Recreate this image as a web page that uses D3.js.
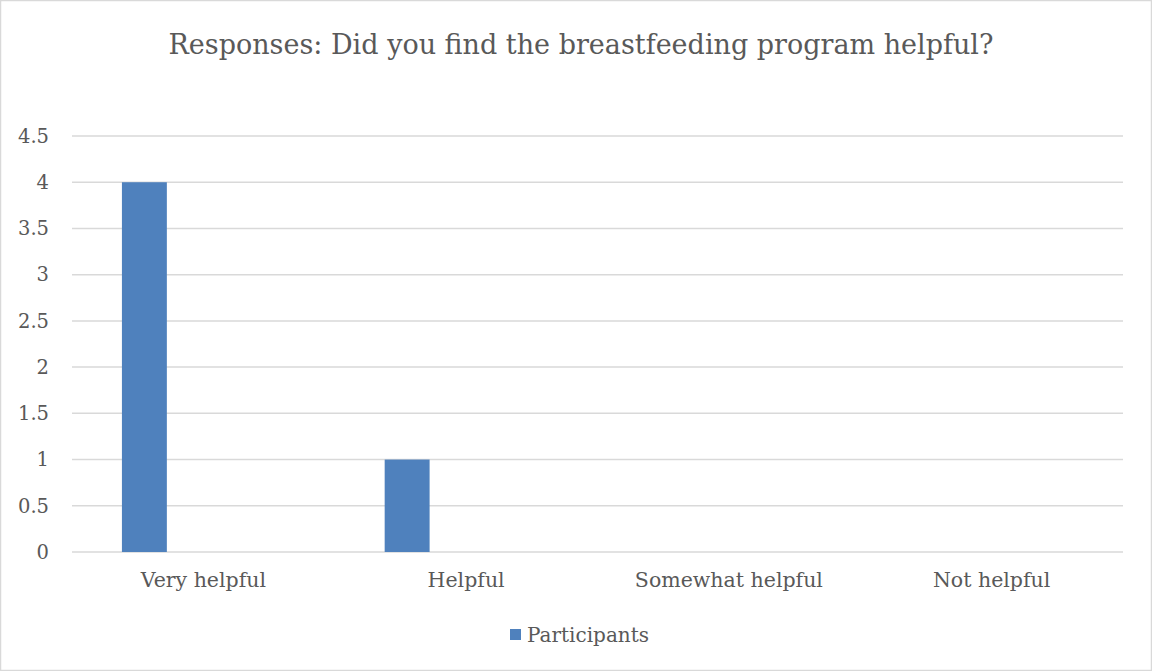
<!DOCTYPE html>
<html>
<head>
<meta charset="utf-8">
<script src="https://cdn.jsdelivr.net/npm/d3@7"></script>
<style>
  html, body { margin: 0; padding: 0; background: #fff; }
  svg { display: block; }
  text { font-family: "DejaVu Serif", "Liberation Serif", serif; fill: #595959; }
</style>
</head>
<body>
<svg id="chart" width="1152" height="671"></svg>
<script>
// Survey answers and participant counts
const categories = ["Very helpful", "Helpful", "Somewhat helpful", "Not helpful"];
const participants = [4, 1, 0, 0];
const yTicks = [0, 0.5, 1, 1.5, 2, 2.5, 3, 3.5, 4, 4.5];
const seriesName = "Participants";
const title = "Responses: Did you find the breastfeeding program helpful?";

const W = 1152, H = 671;
const margin = { top: 136, right: 29, bottom: 119, left: 72 };
const svg = d3.select("#chart");

// chart frame
svg.append("rect")
  .attr("x", 0.5).attr("y", 0.5)
  .attr("width", W - 1).attr("height", H - 1)
  .attr("fill", "#fff").attr("stroke", "#d9d9d9").attr("stroke-width", 1.5);

const x = d3.scaleBand()
  .domain(categories)
  .range([margin.left, W - margin.right])
  .padding(0);

const y = d3.scaleLinear()
  .domain([0, 4.5])
  .range([H - margin.bottom, margin.top]);

// horizontal gridlines
svg.append("g")
  .selectAll("line")
  .data(yTicks)
  .join("line")
  .attr("x1", margin.left).attr("x2", W - margin.right)
  .attr("y1", d => y(d)).attr("y2", d => y(d))
  .attr("stroke", "#d9d9d9").attr("stroke-width", 1.5);

// y axis labels
const yAxis = d3.axisLeft(y).tickValues(yTicks).tickSize(0).tickPadding(23)
  .tickFormat(d3.format("~g"));
svg.append("g")
  .attr("transform", `translate(${margin.left},0)`)
  .call(yAxis)
  .call(g => g.select(".domain").remove())
  .call(g => g.selectAll("text")
    .style("font-family", '"DejaVu Serif", "Liberation Serif", serif')
    .attr("font-size", 19.5).attr("fill", "#595959"));

// bars sit in the left part of each category slot
const slotStart = 0.19, slotWidth = 0.171;
svg.append("g")
  .selectAll("rect")
  .data(categories.map((c, i) => ({ c, v: participants[i] })))
  .join("rect")
  .attr("x", d => x(d.c) + x.bandwidth() * slotStart)
  .attr("width", x.bandwidth() * slotWidth)
  .attr("y", d => y(d.v))
  .attr("height", d => y(0) - y(d.v))
  .attr("fill", "#4f81bd");

// category labels
const xAxis = d3.axisBottom(x).tickSize(0).tickPadding(20);
svg.append("g")
  .attr("transform", `translate(0,${H - margin.bottom})`)
  .call(xAxis)
  .call(g => g.select(".domain").remove())
  .call(g => g.selectAll("text")
    .style("font-family", '"DejaVu Serif", "Liberation Serif", serif')
    .attr("font-size", 20.5).attr("fill", "#595959"));

// title
svg.append("text")
  .attr("x", 581).attr("y", 54)
  .attr("text-anchor", "middle")
  .attr("font-size", 27)
  .text(title);

// legend
const lg = svg.append("g").attr("transform", "translate(510,629)");
lg.append("rect").attr("width", 11).attr("height", 11).attr("fill", "#4f81bd");
lg.append("text").attr("x", 17).attr("y", 13).attr("font-size", 20).text(seriesName);
</script>
</body>
</html>
